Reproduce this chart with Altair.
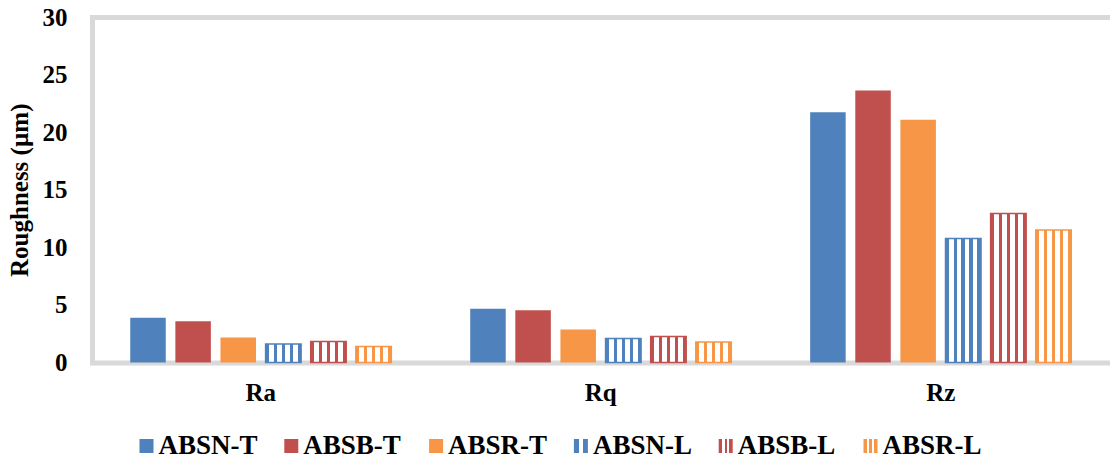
import altair as alt
import pandas as pd

# Surface roughness parameters per specimen
categories = ["Ra", "Rq", "Rz"]
series = ["ABSN-T", "ABSB-T", "ABSR-T", "ABSN-L", "ABSB-L", "ABSR-L"]
series_colors = ["#4F81BD", "#C0504D", "#F79646", "#4F81BD", "#C0504D", "#F79646"]

absn_t = [3.88, 4.66, 21.73]
absb_t = [3.59, 4.54, 23.62]
absr_t = [2.17, 2.87, 21.07]
absn_l = [1.60, 2.09, 10.77]
absb_l = [1.83, 2.26, 12.94]
absr_l = [1.40, 1.78, 11.50]

values_by_series = [absn_t, absb_t, absr_t, absn_l, absb_l, absr_l]

rows = []
for name, vals in zip(series, values_by_series):
    for cat, v in zip(categories, vals):
        rows.append({"category": cat, "series": name, "value": v})
df = pd.DataFrame(rows)

FONT = "Liberation Serif"
FS = 25
LEG_FS = 27
FRAME = "#D9D9D9"
W, H = 1017.5, 345.5


def stripes(color, bands):
    """Vertical stripe fill: list of (start, end) white gaps on a coloured field."""
    stops = [{"offset": 0, "color": color}]
    for a, b in bands:
        stops += [
            {"offset": a, "color": color},
            {"offset": a, "color": "white"},
            {"offset": b, "color": "white"},
            {"offset": b, "color": color},
        ]
    stops.append({"offset": 1, "color": color})
    return {"gradient": "linear", "x1": 0, "x2": 1, "y1": 0, "y2": 0, "stops": stops}


bar_gaps = [(0.1, 0.225), (0.325, 0.45), (0.55, 0.675), (0.775, 0.9)]

x_scale = alt.Scale(domain=categories, paddingInner=0.232, paddingOuter=0.1125)
xoff = alt.XOffset(
    "series:N", sort=series,
    scale=alt.Scale(domain=series, paddingInner=0.213, paddingOuter=0),
)
y_enc = alt.Y(
    "value:Q",
    scale=alt.Scale(domain=[0, 30]),
    axis=alt.Axis(
        values=[0, 5, 10, 15, 20, 25, 30], title="Roughness (µm)", grid=False,
        ticks=False, domainColor=FRAME, domainWidth=5, domainCap="square",
        labelFont=FONT, labelFontSize=FS, labelFontWeight="bold", labelColor="black",
        labelPadding=25, titleFont=FONT, titleFontSize=FS, titleFontWeight="bold",
        titleColor="black", titlePadding=10,
    ),
)

x_bottom = alt.X(
    "category:N", sort=categories, scale=x_scale,
    axis=alt.Axis(
        title=None, orient="bottom", labelAngle=0, ticks=False,
        labelFont=FONT, labelFontSize=FS, labelFontWeight="bold", labelColor="black",
        labelPadding=18, domainColor=FRAME, domainWidth=5,
    ),
)
x_top = alt.X(
    "category:N", sort=categories, scale=x_scale,
    axis=alt.Axis(title=None, orient="top", labels=False, ticks=False,
                  domainColor=FRAME, domainWidth=5),
)
x_plain = alt.X("category:N", sort=categories, scale=x_scale, axis=None)

solid = alt.Chart(df).transform_filter(
    alt.FieldOneOfPredicate(field="series", oneOf=series[:3])
).mark_bar().encode(
    x=x_bottom, xOffset=xoff, y=y_enc,
    fill=alt.Fill("series:N", scale=alt.Scale(domain=series, range=series_colors), legend=None),
)

striped_layers = []
for i, name in enumerate(series[3:]):
    color = series_colors[3 + i]
    striped_layers.append(
        alt.Chart(df).transform_filter(alt.datum.series == name)
        .mark_bar(fill=stripes(color, bar_gaps), stroke=color, strokeWidth=1.5)
        .encode(x=x_top if i == 0 else x_plain, xOffset=xoff, y=y_enc)
    )

main = alt.layer(solid, *striped_layers).resolve_axis(x="independent").properties(
    width=W, height=H
)

# Legend row underneath the plot
leg_df = pd.DataFrame({"series": series})
leg_x = alt.X(
    "series:N", sort=series, axis=None,
    scale=alt.Scale(type="point", domain=series, range=[54.5, 778.5], padding=0),
)
leg_base = alt.Chart(leg_df)
leg_solid = leg_base.transform_filter(
    alt.FieldOneOfPredicate(field="series", oneOf=series[:3])
).mark_square(size=196, opacity=1).encode(
    x=leg_x, y=alt.value(15),
    fill=alt.Fill("series:N", scale=alt.Scale(domain=series, range=series_colors), legend=None),
)
leg_gaps = [[(0.35, 0.65)], [(0.25, 0.42), (0.58, 0.75)], [(0.25, 0.42), (0.58, 0.75)]]
leg_striped = [
    leg_base.transform_filter(alt.datum.series == name)
    .mark_square(size=196, opacity=1, fill=stripes(series_colors[3 + i], leg_gaps[i]))
    .encode(x=leg_x, y=alt.value(15))
    for i, name in enumerate(series[3:])
]
leg_text = leg_base.mark_text(
    align="left", baseline="middle", dx=12, font=FONT, fontSize=LEG_FS,
    fontWeight="bold", color="black",
).encode(x=leg_x, y=alt.value(15), text="series:N")

legend = alt.layer(leg_solid, *leg_striped, leg_text).properties(width=W, height=30)

chart = (
    alt.vconcat(main, legend, spacing=25)
    .properties(
        padding={"left": 7, "top": 5, "right": 0, "bottom": 0},
        background="white",
    )
    .configure_view(strokeWidth=0, stroke="transparent")
)

chart.save("out.html", embed_options={"renderer": "svg", "actions": False})
